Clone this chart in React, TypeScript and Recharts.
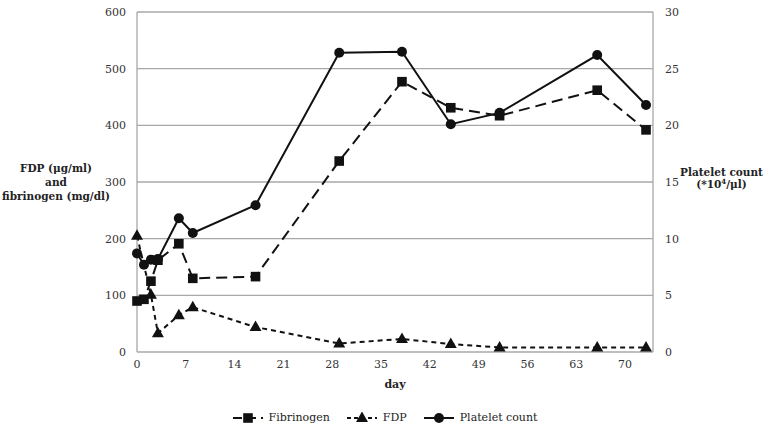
import {
  CartesianGrid,
  Legend,
  Line,
  LineChart,
  XAxis,
  YAxis,
} from "recharts";

const days = [0, 1, 2, 3, 6, 8, 17, 29, 38, 45, 52, 66, 73];
const fibrinogen = [90, 93, 125, 162, 191, 130, 133, 337, 477, 431, 417, 462, 392];
const fdp = [205, null, 101, 33, 65, 79, 44, 15, 23, 14, 8, 8, 8];
const platelet = [8.7, 7.7, 8.15, 8.2, 11.8, 10.5, 12.95, 26.4, 26.5, 20.1, 21.1, 26.2, 21.8];

const dayTicks = [0, 7, 14, 21, 28, 35, 42, 49, 56, 63, 70];
const leftTicks = [0, 100, 200, 300, 400, 500, 600];
const rightTicks = [0, 5, 10, 15, 20, 25, 30];

const FONT = "'DejaVu Serif', serif";
const INK = "#111";
const GRID = "#a8a8a8";

const data = days.map((d, i) => ({
  day: d,
  fibrinogen: fibrinogen[i],
  fdp: fdp[i],
  platelet: platelet[i],
}));

type Shape = "square" | "triangle" | "circle";

function Marker({ x, y, shape }: { x: number; y: number; shape: Shape }) {
  if (shape === "square")
    return <rect x={x - 4.8} y={y - 4.8} width={9.6} height={9.6} fill={INK} />;
  if (shape === "triangle")
    return (
      <polygon
        points={`${x},${y - 6.5} ${x + 6},${y + 4} ${x - 6},${y + 4}`}
        fill={INK}
      />
    );
  return <circle cx={x} cy={y} r={5} fill={INK} />;
}

function makeDot(shape: Shape) {
  return (props: any) => {
    const { cx, cy, index } = props;
    if (cx == null || cy == null || Number.isNaN(cy)) return <g key={index} />;
    return (
      <g key={index}>
        <Marker x={cx} y={cy} shape={shape} />
      </g>
    );
  };
}

const legendItems: { name: string; shape: Shape; dash?: string }[] = [
  { name: "Fibrinogen", shape: "square", dash: "9 5" },
  { name: "FDP", shape: "triangle", dash: "4 3" },
  { name: "Platelet count", shape: "circle" },
];

function LegendContent() {
  return (
    <div
      style={{
        display: "flex",
        justifyContent: "center",
        gap: 16,
        fontFamily: FONT,
        fontSize: 11,
        lineHeight: "14px",
        color: "#222",
        paddingLeft: 0,
      }}
    >
      {legendItems.map((it) => (
        <div key={it.name} style={{ display: "flex", alignItems: "center", gap: 5 }}>
          <svg width={32} height={12}>
            <line
              x1={1}
              x2={31}
              y1={6}
              y2={6}
              stroke={INK}
              strokeWidth={2}
              strokeDasharray={it.dash}
            />
            <Marker x={16} y={6} shape={it.shape} />
          </svg>
          <span>{it.name}</span>
        </div>
      ))}
    </div>
  );
}

const labelStyle: React.CSSProperties = {
  position: "absolute",
  fontFamily: FONT,
  fontWeight: "bold",
  fontSize: 10.5,
  lineHeight: "14px",
  color: "#222",
  textAlign: "center",
  whiteSpace: "nowrap",
};

export default function App() {
  return (
    <div
      style={{
        position: "absolute",
        left: 0,
        top: 0,
        width: 769,
        height: 433,
        background: "#fff",
      }}
    >
      <LineChart
        width={769}
        height={433}
        data={data}
        margin={{ top: 12, right: 0, bottom: 0, left: 0 }}
      >
        <CartesianGrid
          horizontal
          vertical={false}
          stroke={GRID}
          strokeWidth={1.3}
          yAxisId="left"
        />
        <XAxis
          dataKey="day"
          type="number"
          domain={[0, 74]}
          ticks={dayTicks}
          tickLine={false}
          axisLine={false}
          height={67}
          tick={{ fill: "#333", fontSize: 11, fontFamily: FONT }}
          tickSize={6}
          tickMargin={2}
        />
        <YAxis
          yAxisId="left"
          orientation="left"
          domain={[0, 600]}
          ticks={leftTicks}
          width={137}
          axisLine={{ stroke: GRID, strokeWidth: 1.3 }}
          tickLine={false}
          tickSize={6}
          tickMargin={5}
          tick={{ fill: "#333", fontSize: 11, fontFamily: FONT }}
        />
        <YAxis
          yAxisId="right"
          orientation="right"
          domain={[0, 30]}
          ticks={rightTicks}
          width={116}
          axisLine={{ stroke: GRID, strokeWidth: 1.3 }}
          tickLine={false}
          tickSize={6}
          tickMargin={6}
          tick={{ fill: "#333", fontSize: 11, fontFamily: FONT }}
        />
        <Line
          yAxisId="left"
          dataKey="fibrinogen"
          type="linear"
          stroke={INK}
          strokeWidth={2}
          strokeDasharray="11 6"
          dot={makeDot("square")}
          isAnimationActive={false}
        />
        <Line
          yAxisId="left"
          dataKey="fdp"
          type="linear"
          stroke={INK}
          strokeWidth={2}
          strokeDasharray="5 4"
          connectNulls
          dot={makeDot("triangle")}
          isAnimationActive={false}
        />
        <Line
          yAxisId="right"
          dataKey="platelet"
          type="linear"
          stroke={INK}
          strokeWidth={2}
          dot={makeDot("circle")}
          isAnimationActive={false}
        />
        <Legend
          content={<LegendContent />}
          wrapperStyle={{ left: 0, top: 411, width: 769 }}
        />
      </LineChart>
      <div style={{ ...labelStyle, left: 0, top: 161, width: 112 }}>
        FDP (μg/ml)
        <br />
        and
        <br />
        fibrinogen (mg/dl)
      </div>
      <div style={{ ...labelStyle, left: 674, top: 166, width: 95, lineHeight: "12px" }}>
        Platelet count
        <br />
        (*10<sup style={{ fontSize: 7, lineHeight: 0 }}>4</sup>/μl)
      </div>
      <div style={{ ...labelStyle, left: 345, top: 378, width: 100, fontSize: 11 }}>
        day
      </div>
    </div>
  );
}
